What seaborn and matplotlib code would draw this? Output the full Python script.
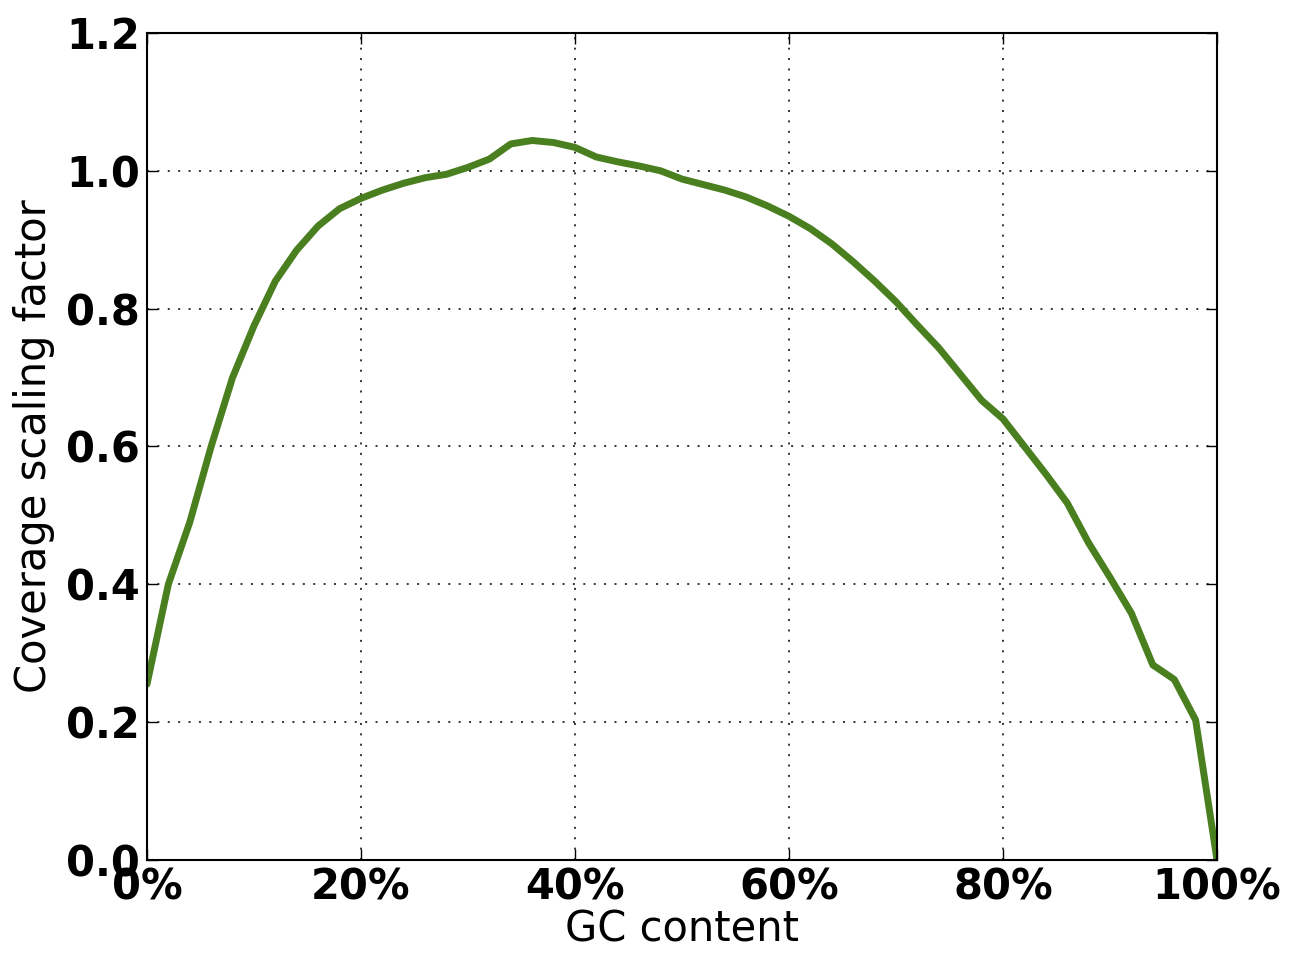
import numpy as np
import pandas as pd
import matplotlib
matplotlib.use("Agg")
import matplotlib.pyplot as plt
import seaborn as sns
from matplotlib.ticker import FuncFormatter

gc_percent = [0, 2, 4, 6, 8, 10, 12, 14, 16, 18, 20, 22, 24, 26, 28, 30, 32, 34, 36, 38,
              40, 42, 44, 46, 48, 50, 52, 54, 56, 58, 60, 62, 64, 66, 68, 70, 72, 74, 76, 78,
              80, 82, 84, 86, 88, 90, 92, 94, 96, 98, 100]
scaling = [0.255, 0.40, 0.49, 0.60, 0.70, 0.775, 0.84, 0.885, 0.92, 0.945, 0.96, 0.972, 0.982,
           0.99, 0.995, 1.005, 1.017, 1.039, 1.044, 1.041, 1.034, 1.02, 1.013, 1.007, 1.0,
           0.988, 0.98, 0.972, 0.962, 0.949, 0.934, 0.916, 0.894, 0.868, 0.84, 0.81, 0.776,
           0.743, 0.705, 0.667, 0.64, 0.6, 0.56, 0.518, 0.46, 0.41, 0.358, 0.283, 0.262,
           0.203, 0.0]
x_ticks = [0, 20, 40, 60, 80, 100]
y_ticks = [0.0, 0.2, 0.4, 0.6, 0.8, 1.0, 1.2]

sns.set_style("white")
plt.rcParams['font.family'] = ['DejaVu Sans']
plt.rcParams['text.color'] = 'black'
plt.rcParams['axes.labelcolor'] = 'black'

df = pd.DataFrame({"gc": gc_percent, "scale": scaling})

fig = plt.figure(figsize=(13.05, 9.64), dpi=100)
ax = fig.add_axes([0.1126, 0.1079, 0.82, 0.8579])
sns.lineplot(data=df, x="gc", y="scale", ax=ax, color="#4a7f1f", linewidth=5)

ax.set_xlim(0, 100)
ax.set_ylim(0, 1.2)
ax.set_xticks(x_ticks)
ax.set_yticks(y_ticks)
ax.xaxis.set_major_formatter(FuncFormatter(lambda v, p: f"{int(v)}%"))
ax.yaxis.set_major_formatter(FuncFormatter(lambda v, p: f"{v:.1f}"))
for lab in ax.get_xticklabels() + ax.get_yticklabels():
    lab.set_fontweight("bold")
ax.tick_params(axis="both", which="major", direction="in", length=8, width=1,
               labelsize=30, top=True, right=True, bottom=True, left=True, pad=5,
               colors="black", labelcolor="black")
ax.grid(True, color="black", linestyle=(0, (1.3, 5.5)), linewidth=1.1)
for s in ax.spines.values():
    s.set_visible(True)
    s.set_color("black")
    s.set_linewidth(1.5)
ax.set_xlabel("GC content", fontsize=30, labelpad=0, color="black")
ax.set_ylabel("Coverage scaling factor", fontsize=30, labelpad=8, color="black")

fig.savefig("out.png", dpi=100)
